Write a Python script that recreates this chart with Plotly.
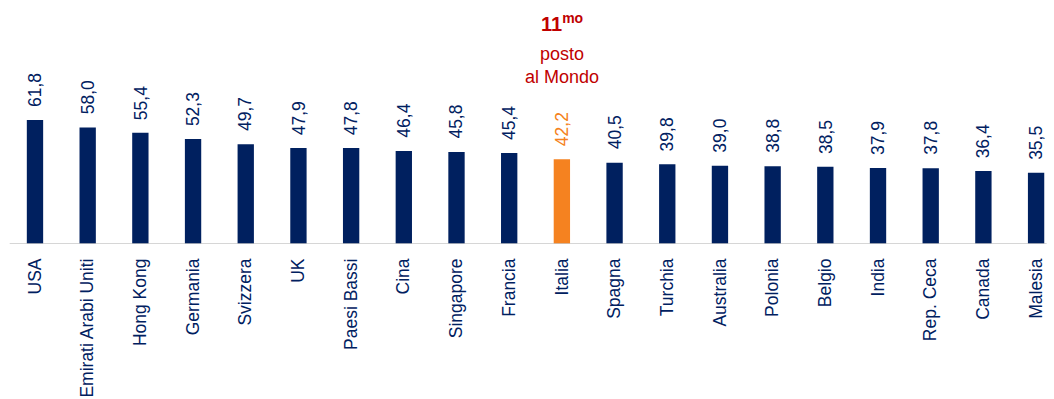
import plotly.graph_objects as go

countries = ["USA", "Emirati Arabi Uniti", "Hong Kong", "Germania", "Svizzera", "UK",
             "Paesi Bassi", "Cina", "Singapore", "Francia", "Italia", "Spagna", "Turchia",
             "Australia", "Polonia", "Belgio", "India", "Rep. Ceca", "Canada", "Malesia"]
values = [61.8, 58.0, 55.4, 52.3, 49.7, 47.9, 47.8, 46.4, 45.8, 45.4, 42.2, 40.5, 39.8,
          39.0, 38.8, 38.5, 37.9, 37.8, 36.4, 35.5]
highlight = "Italia"

NAVY = "#00205F"
ORANGE = "#F58220"
RED = "#C00000"
FONT = "Liberation Sans, Arial, sans-serif"

x = list(range(len(countries)))
bar_colors = [ORANGE if c == highlight else NAVY for c in countries]

fig = go.Figure(go.Bar(x=x, y=values, marker=dict(color=bar_colors, line=dict(width=0)),
                       width=0.31, hoverinfo="skip"))

# value labels, rotated above each bar
for xi, v, c in zip(x, values, countries):
    fig.add_annotation(x=xi, y=v, text=f"{v:.1f}".replace(".", ","), textangle=-90,
                       showarrow=False, yanchor="bottom", yshift=11,
                       font=dict(family=FONT, size=17.5,
                                 color=ORANGE if c == highlight else NAVY))

# ranking callout above the highlighted bar
hi = countries.index(highlight)
fig.add_annotation(x=hi, y=1.0, yref="paper", yanchor="middle", yshift=-22, showarrow=False,
                   text="<b>11<sup>mo</sup></b>", font=dict(family=FONT, size=20, color=RED))
fig.add_annotation(x=hi, y=1.0, yref="paper", yanchor="middle", yshift=-54, showarrow=False,
                   text="posto", font=dict(family=FONT, size=18, color=RED))
fig.add_annotation(x=hi, y=1.0, yref="paper", yanchor="middle", yshift=-77, showarrow=False,
                   text="al Mondo", font=dict(family=FONT, size=18, color=RED))

# baseline
fig.add_shape(type="line", x0=-0.48, x1=19.2, y0=0, y1=0, xref="x", yref="y",
              line=dict(color="#C8C8C8", width=1.5))

fig.update_layout(
    width=1054, height=399,
    margin=dict(l=0, r=0, t=0, b=155),
    paper_bgcolor="white", plot_bgcolor="white",
    showlegend=False,
    xaxis=dict(range=[-0.664, 19.34], tickmode="array", tickvals=x, ticktext=countries,
               tickangle=-90, showgrid=False, zeroline=False, showline=False, ticks="",
               automargin=False, ticklabelstandoff=10,
               tickfont=dict(family=FONT, size=17.5, color=NAVY), fixedrange=True),
    yaxis=dict(range=[0, 121.6], visible=False, fixedrange=True),
)

fig.write_html("out.html", config={"displayModeBar": False})
